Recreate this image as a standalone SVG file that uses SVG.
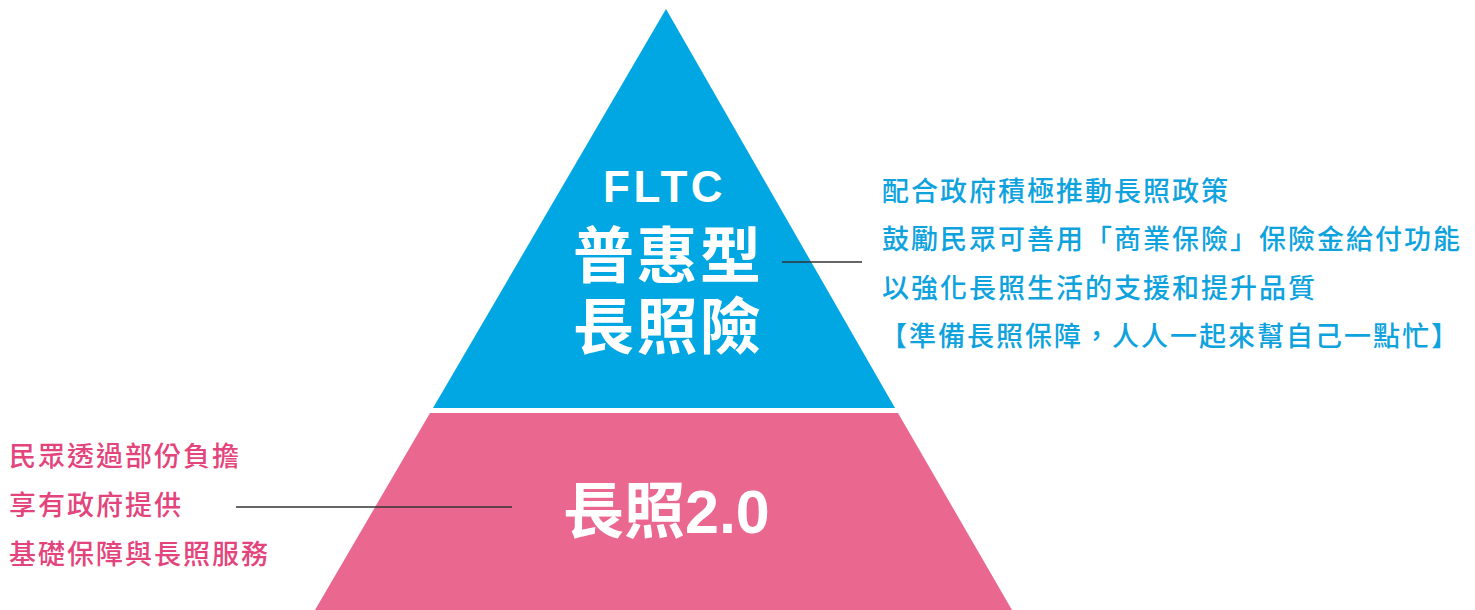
<svg xmlns="http://www.w3.org/2000/svg" width="1475" height="610" viewBox="0 0 1475 610">
  <style>
    .cjk { font-family: "Liberation Sans", "Noto Sans CJK TC", sans-serif; }
    .title { fill: #ffffff; font-weight: 700; }
    .side-blue { fill: #0fa3de; font-size: 27px; letter-spacing: 2px; font-weight: 500; }
    .side-pink { fill: #e4447c; font-size: 27px; letter-spacing: 2px; font-weight: 500; }
    .conn { stroke: #333333; stroke-width: 1.3; fill: none; }
  </style>
  <rect width="1475" height="610" fill="#ffffff"/>

  <g id="tier-top">
    <polygon points="666,9 433,408 895,408" fill="#00a7e3"/>
    <text class="cjk title" x="603" y="202" font-size="44" letter-spacing="3.5">FLTC</text>
    <text class="cjk title" x="573" y="278" font-size="61" letter-spacing="2.5">普惠型</text>
    <text class="cjk title" x="573" y="349" font-size="61" letter-spacing="2.5">長照險</text>
  </g>

  <g id="tier-bottom">
    <polygon points="430,413 898,413 1012,610 315,610" fill="#ea688f"/>
    <text class="cjk title" x="563" y="533" font-size="61">長照2.0</text>
  </g>

  <g id="note-top">
    <text class="cjk side-blue" x="882" y="201">配合政府積極推動長照政策</text>
    <text class="cjk side-blue" x="882" y="249">鼓勵民眾可善用「商業保險」保險金給付功能</text>
    <text class="cjk side-blue" x="882" y="297.5">以強化長照生活的支援和提升品質</text>
    <text class="cjk side-blue" x="880" y="346">【準備長照保障，人人一起來幫自己一點忙】</text>
  </g>

  <g id="note-bottom">
    <text class="cjk side-pink" x="9" y="466">民眾透過部份負擔</text>
    <text class="cjk side-pink" x="9" y="515">享有政府提供</text>
    <text class="cjk side-pink" x="9" y="564">基礎保障與長照服務</text>
  </g>

  <g id="connectors">
    <line class="conn" x1="782" y1="262" x2="862" y2="262"/>
    <line class="conn" x1="236" y1="507" x2="512" y2="507"/>
  </g>
</svg>
